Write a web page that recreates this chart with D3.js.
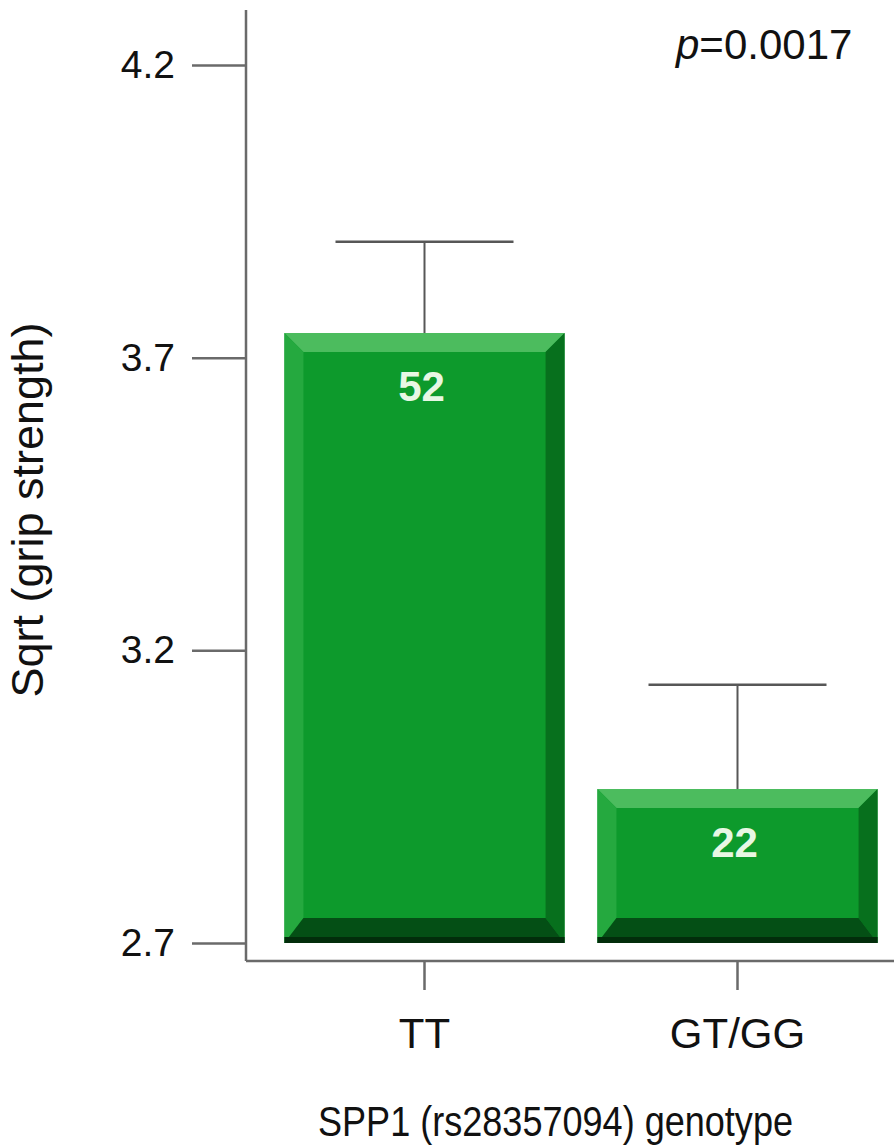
<!DOCTYPE html>
<html>
<head>
<meta charset="utf-8">
<script src="https://cdn.jsdelivr.net/npm/d3@7"></script>
<style>
  html, body { margin: 0; padding: 0; background: #ffffff; }
  svg { display: block; font-family: Arial, "Liberation Sans", Helvetica, sans-serif; }
</style>
</head>
<body>
<svg id="chart" width="894" height="1148"></svg>
<script>
// Genotype groups, mean sqrt(grip strength), upper error, sample sizes
const genotypes = ["TT", "GT/GG"];
const means = [3.742, 2.963];
const upperErrors = [3.898, 3.141];
const sampleSizes = [52, 22];
const yTicks = [2.7, 3.2, 3.7, 4.2];
const pLabel = "0.0017";

const svg = d3.select("#chart");

const y = d3.scaleLinear().domain([2.7, 4.2]).range([943, 65]);
const x = d3.scaleBand().domain(genotypes).range([268, 894])
  .paddingInner(0.105).paddingOuter(0.0525);

const axisX0 = 246;   // left axis position
const axisY0 = 961;   // bottom axis position
const axisColor = "#6a6a6a";

// Frame lines
svg.append("line")
  .attr("x1", axisX0).attr("x2", axisX0).attr("y1", 10).attr("y2", axisY0)
  .attr("stroke", axisColor).attr("stroke-width", 2.5);
svg.append("line")
  .attr("x1", axisX0).attr("x2", 894).attr("y1", axisY0).attr("y2", axisY0)
  .attr("stroke", axisColor).attr("stroke-width", 2.5);

// Y axis ticks and labels
const gy = svg.append("g")
  .attr("transform", `translate(${axisX0},0)`)
  .call(d3.axisLeft(y).tickValues(yTicks).tickFormat(d3.format(".1f"))
    .tickSize(54).tickPadding(17));
gy.select(".domain").remove();
gy.selectAll(".tick line").attr("stroke", axisColor).attr("stroke-width", 2.5);
gy.selectAll(".tick text").attr("font-size", 39).attr("fill", "#111")
  .attr("font-family", "Arial, 'Liberation Sans', sans-serif");

// X axis ticks and labels
const gx = svg.append("g")
  .attr("transform", `translate(0,${axisY0})`)
  .call(d3.axisBottom(x).tickSize(29).tickPadding(28));
gx.select(".domain").remove();
gx.selectAll(".tick line").attr("stroke", axisColor).attr("stroke-width", 2.5);
gx.selectAll(".tick text").attr("font-size", 42).attr("fill", "#111")
  .attr("font-family", "Arial, 'Liberation Sans', sans-serif");

// Error bars (upper whisker only)
const capHalf = 89;
const err = svg.append("g");
genotypes.forEach((g, i) => {
  const cx = x(g) + x.bandwidth() / 2;
  err.append("line")
    .attr("x1", cx).attr("x2", cx).attr("y1", y(means[i])).attr("y2", y(upperErrors[i]))
    .attr("stroke", "#575757").attr("stroke-width", 2);
  err.append("line")
    .attr("x1", cx - capHalf).attr("x2", cx + capHalf)
    .attr("y1", y(upperErrors[i])).attr("y2", y(upperErrors[i]))
    .attr("stroke", "#575757").attr("stroke-width", 2.5);
});

// Bevelled bars
const bevel = 19;      // top/left/right bevel width
const bevelBottom = 25;
const bars = svg.append("g");
genotypes.forEach((g, i) => {
  const x0 = x(g), x1 = x(g) + x.bandwidth();
  const y0 = y(means[i]), y1 = y(2.7);
  const pts = a => a.map(p => p.join(",")).join(" ");
  const bar = bars.append("g");
  // face
  bar.append("rect").attr("x", x0).attr("y", y0).attr("width", x1 - x0).attr("height", y1 - y0)
    .attr("fill", "#0d9a2c");
  // top bevel
  bar.append("polygon").attr("points", pts([[x0, y0], [x1, y0], [x1 - bevel, y0 + bevel], [x0 + bevel, y0 + bevel]]))
    .attr("fill", "#4cbc5e");
  // left bevel
  bar.append("polygon").attr("points", pts([[x0, y0], [x0 + bevel, y0 + bevel], [x0 + bevel, y1 - bevelBottom], [x0, y1]]))
    .attr("fill", "#25a93f");
  // right bevel
  bar.append("polygon").attr("points", pts([[x1, y0], [x1, y1], [x1 - bevel, y1 - bevelBottom], [x1 - bevel, y0 + bevel]]))
    .attr("fill", "#07701d");
  // bottom bevel
  bar.append("polygon").attr("points", pts([[x0, y1], [x0 + bevel, y1 - bevelBottom], [x1 - bevel, y1 - bevelBottom], [x1, y1]]))
    .attr("fill", "#044f15");
  // dark base edge
  bar.append("rect").attr("x", x0).attr("y", y1 - 6).attr("width", x1 - x0).attr("height", 6)
    .attr("fill", "#022d0b");
  // sample size label
  bar.append("text")
    .attr("x", (x0 + x1) / 2 - 3).attr("y", y0 + 68)
    .attr("text-anchor", "middle")
    .attr("font-size", 42).attr("font-weight", "bold")
    .attr("fill", "#e8f7e4")
    .text(sampleSizes[i]);
});

// p-value annotation
const pText = svg.append("text")
  .attr("x", 676).attr("y", 59)
  .attr("font-size", 42).attr("fill", "#111");
pText.append("tspan").attr("font-style", "italic").text("p");
pText.append("tspan").text("=" + pLabel);

// Axis titles (x title uses a slightly condensed face)
svg.append("text")
  .attr("x", 318).attr("y", 1136)
  .attr("font-size", 42).attr("fill", "#111")
  .attr("textLength", 475).attr("lengthAdjust", "spacingAndGlyphs")
  .text("SPP1 (rs28357094) genotype");

svg.append("text")
  .attr("transform", "translate(43,510) rotate(-90)")
  .attr("text-anchor", "middle")
  .attr("font-size", 45).attr("fill", "#111")
  .text("Sqrt (grip strength)");
</script>
</body>
</html>
